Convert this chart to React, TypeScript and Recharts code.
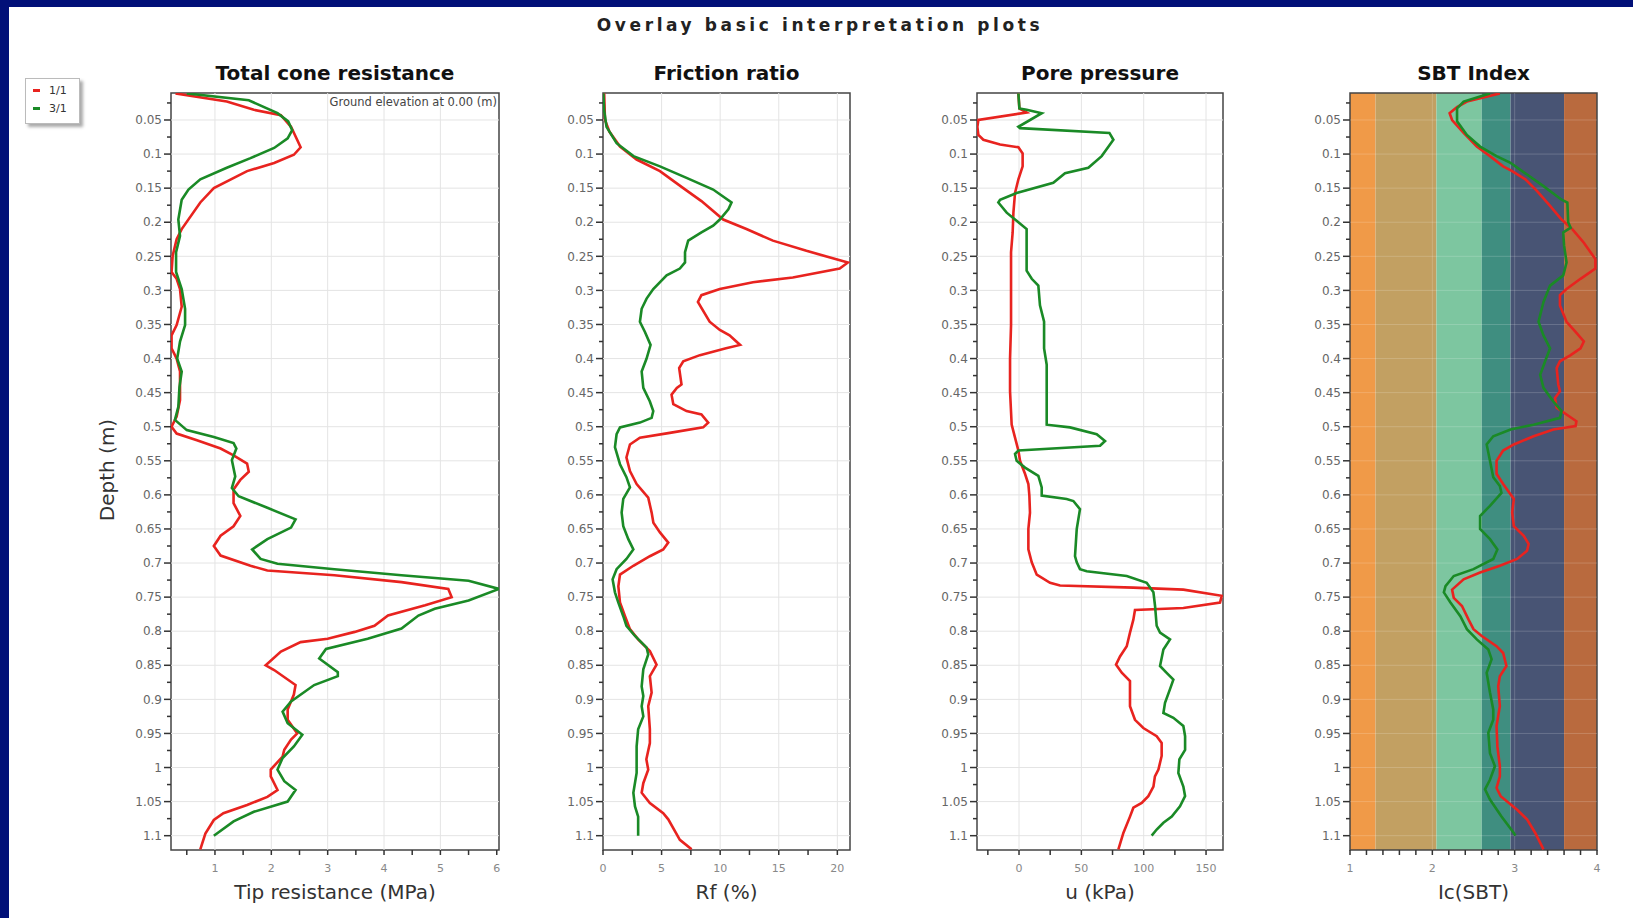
import React, { type ReactElement } from "react";
import {
  ReferenceArea,
  ReferenceLine,
  Scatter,
  ScatterChart,
  XAxis,
  YAxis,
} from "recharts";

// each curve: depth (m) and the value read at that depth
const coneDepth1 = [0.011, 0.023, 0.035, 0.043, 0.06, 0.09, 0.101, 0.113, 0.125, 0.15, 0.171, 0.21, 0.225, 0.249, 0.273, 0.283, 0.298, 0.324, 0.351, 0.366, 0.385, 0.4, 0.419, 0.432, 0.461, 0.485, 0.5, 0.51, 0.52, 0.532, 0.542, 0.554, 0.566, 0.578, 0.592, 0.612, 0.631, 0.646, 0.66, 0.675, 0.689, 0.704, 0.711, 0.718, 0.728, 0.738, 0.75, 0.762, 0.777, 0.792, 0.801, 0.811, 0.816, 0.83, 0.85, 0.857, 0.879, 0.893, 0.915, 0.93, 0.95, 0.959, 0.974, 0.984, 1.003, 1.013, 1.033, 1.043, 1.055, 1.067, 1.077, 1.097, 1.12];
const coneQt1 = [0.3, 1.21, 1.69, 2.17, 2.35, 2.52, 2.4, 2.05, 1.57, 0.98, 0.74, 0.41, 0.32, 0.25, 0.23, 0.32, 0.38, 0.41, 0.32, 0.23, 0.23, 0.32, 0.38, 0.38, 0.38, 0.32, 0.23, 0.32, 0.68, 1.1, 1.33, 1.57, 1.6, 1.45, 1.33, 1.33, 1.45, 1.33, 1.1, 0.98, 1.1, 1.63, 1.93, 3.12, 4.31, 5.14, 5.2, 4.73, 4.07, 3.83, 3.48, 3.0, 2.52, 2.17, 1.9, 2.05, 2.43, 2.4, 2.29, 2.29, 2.46, 2.35, 2.23, 2.2, 1.99, 1.99, 2.11, 1.93, 1.57, 1.15, 0.98, 0.83, 0.74];
const coneDepth3 = [0.011, 0.021, 0.04, 0.052, 0.065, 0.077, 0.091, 0.106, 0.12, 0.137, 0.152, 0.167, 0.196, 0.22, 0.244, 0.273, 0.298, 0.327, 0.351, 0.375, 0.4, 0.419, 0.442, 0.471, 0.49, 0.505, 0.515, 0.524, 0.532, 0.549, 0.573, 0.59, 0.602, 0.619, 0.636, 0.648, 0.665, 0.68, 0.694, 0.701, 0.709, 0.718, 0.726, 0.738, 0.755, 0.767, 0.777, 0.796, 0.811, 0.826, 0.84, 0.86, 0.866, 0.879, 0.903, 0.918, 0.935, 0.952, 0.969, 0.986, 1.003, 1.02, 1.033, 1.05, 1.065, 1.079, 1.1];
const coneQt3 = [0.5, 1.6, 2.11, 2.3, 2.37, 2.29, 2.05, 1.63, 1.21, 0.74, 0.53, 0.41, 0.35, 0.38, 0.31, 0.31, 0.41, 0.47, 0.47, 0.38, 0.33, 0.41, 0.37, 0.35, 0.29, 0.5, 0.98, 1.33, 1.38, 1.3, 1.36, 1.3, 1.42, 1.93, 2.43, 2.35, 1.93, 1.66, 1.81, 2.11, 3.12, 4.31, 5.5, 6.04, 5.5, 4.9, 4.61, 4.31, 3.71, 2.97, 2.85, 3.18, 3.18, 2.76, 2.35, 2.2, 2.29, 2.55, 2.4, 2.2, 2.11, 2.23, 2.43, 2.29, 1.69, 1.33, 0.98];

const rfDepth1 = [0.011, 0.05, 0.067, 0.089, 0.108, 0.125, 0.15, 0.169, 0.196, 0.21, 0.227, 0.242, 0.259, 0.268, 0.281, 0.288, 0.298, 0.307, 0.317, 0.346, 0.358, 0.366, 0.38, 0.385, 0.395, 0.404, 0.414, 0.438, 0.443, 0.453, 0.467, 0.477, 0.482, 0.494, 0.501, 0.509, 0.516, 0.526, 0.545, 0.565, 0.584, 0.604, 0.626, 0.641, 0.655, 0.67, 0.68, 0.69, 0.704, 0.717, 0.734, 0.758, 0.778, 0.797, 0.812, 0.829, 0.849, 0.866, 0.89, 0.91, 0.944, 0.964, 0.988, 1.003, 1.023, 1.037, 1.052, 1.067, 1.076, 1.106, 1.12];
const rf1 = [0.1, 0.17, 0.54, 1.45, 2.87, 4.86, 6.85, 8.4, 10.26, 12.24, 14.5, 17.36, 20.9, 20.2, 16.2, 12.8, 9.97, 8.4, 8.1, 9.1, 9.97, 10.8, 11.7, 10.5, 8.27, 6.85, 6.5, 6.7, 6.3, 5.85, 6.0, 7.13, 8.4, 8.98, 8.55, 5.7, 3.15, 2.3, 2.0, 2.3, 2.87, 3.86, 4.15, 4.3, 4.86, 5.57, 5.14, 4.0, 2.59, 1.45, 1.31, 1.45, 1.88, 2.3, 3.0, 4.0, 4.57, 4.0, 4.15, 3.86, 4.0, 4.0, 3.7, 3.86, 3.44, 3.3, 4.0, 5.14, 5.57, 6.56, 7.56];
const rfDepth3 = [0.011, 0.035, 0.06, 0.084, 0.103, 0.118, 0.135, 0.152, 0.171, 0.181, 0.196, 0.205, 0.215, 0.227, 0.244, 0.259, 0.268, 0.278, 0.298, 0.312, 0.327, 0.346, 0.361, 0.38, 0.4, 0.419, 0.443, 0.463, 0.477, 0.487, 0.494, 0.501, 0.511, 0.53, 0.555, 0.574, 0.589, 0.606, 0.626, 0.646, 0.665, 0.68, 0.694, 0.709, 0.724, 0.743, 0.758, 0.778, 0.792, 0.807, 0.824, 0.834, 0.856, 0.881, 0.895, 0.91, 0.925, 0.944, 0.969, 1.008, 1.037, 1.057, 1.072, 1.1];
const rf3 = [0.03, 0.09, 0.3, 1.16, 2.6, 4.86, 7.13, 9.4, 10.97, 10.7, 9.97, 9.4, 8.4, 7.27, 7.0, 7.0, 6.56, 5.43, 4.29, 3.72, 3.3, 3.15, 3.58, 4.06, 3.72, 3.3, 3.44, 4.0, 4.29, 4.15, 3.15, 1.45, 1.16, 1.02, 1.45, 2.0, 2.3, 1.73, 1.59, 1.73, 2.16, 2.59, 2.0, 1.16, 0.82, 1.02, 1.31, 1.73, 2.0, 2.73, 3.72, 3.86, 3.44, 3.3, 3.44, 3.3, 3.44, 3.0, 2.87, 2.87, 2.59, 2.73, 3.0, 3.0];

const uDepth1 = [0.011, 0.033, 0.039, 0.05, 0.06, 0.072, 0.079, 0.086, 0.09, 0.099, 0.118, 0.137, 0.157, 0.186, 0.215, 0.244, 0.302, 0.351, 0.4, 0.448, 0.497, 0.516, 0.535, 0.55, 0.569, 0.584, 0.601, 0.626, 0.65, 0.68, 0.699, 0.717, 0.729, 0.733, 0.736, 0.739, 0.748, 0.758, 0.766, 0.769, 0.783, 0.802, 0.822, 0.837, 0.849, 0.861, 0.873, 0.895, 0.91, 0.93, 0.942, 0.954, 0.964, 0.983, 1.003, 1.013, 1.028, 1.042, 1.052, 1.059, 1.072, 1.096, 1.12];
const u1 = [-0.5, 0.3, 6.1, -32.6, -33.4, -32.6, -28.6, -15.2, -0.5, 2.9, 2.9, -0.5, -3.2, -4.5, -5.1, -6.4, -6.4, -6.4, -7.2, -7.2, -5.9, -3.2, -0.5, 0.8, 4.8, 7.5, 8.3, 8.8, 7.5, 7.5, 10.2, 14.2, 24.9, 32.9, 91.7, 131.8, 162.6, 161.2, 131.8, 93.0, 91.7, 89.0, 86.4, 81.0, 77.8, 82.4, 89.0, 89.0, 89.0, 93.0, 99.7, 110.4, 114.4, 114.4, 111.8, 109.0, 107.8, 103.7, 98.4, 91.7, 89.0, 83.7, 79.7];
const uDepth3 = [0.011, 0.033, 0.035, 0.04, 0.06, 0.062, 0.069, 0.079, 0.103, 0.12, 0.128, 0.142, 0.157, 0.167, 0.171, 0.186, 0.2, 0.21, 0.271, 0.283, 0.293, 0.322, 0.346, 0.385, 0.409, 0.497, 0.501, 0.511, 0.521, 0.528, 0.535, 0.54, 0.55, 0.56, 0.572, 0.589, 0.601, 0.606, 0.609, 0.621, 0.65, 0.69, 0.699, 0.709, 0.712, 0.719, 0.729, 0.743, 0.763, 0.792, 0.802, 0.812, 0.827, 0.851, 0.861, 0.871, 0.885, 0.905, 0.92, 0.927, 0.939, 0.954, 0.974, 0.988, 1.008, 1.028, 1.042, 1.057, 1.072, 1.081, 1.091, 1.1];
const u3 = [-0.5, 0.3, 6.1, 18.2, -0.5, 0.8, 72.5, 75.7, 66.3, 55.6, 36.9, 27.5, -1.9, -15.2, -16.6, -9.9, -0.5, 6.1, 6.1, 10.2, 15.5, 16.8, 20.1, 20.1, 22.2, 22.2, 40.9, 62.3, 69.0, 65.0, -0.5, -3.2, -1.9, 4.8, 15.5, 18.2, 18.2, 38.2, 43.6, 48.9, 46.3, 44.9, 46.3, 48.9, 54.3, 86.4, 102.4, 107.8, 109.1, 110.4, 113.1, 121.1, 115.8, 113.1, 118.4, 123.8, 121.1, 117.1, 115.8, 123.8, 131.8, 133.2, 133.2, 128.6, 127.8, 131.8, 133.2, 129.1, 122.5, 115.8, 110.4, 106.4];

const icDepth1 = [0.011, 0.023, 0.031, 0.04, 0.05, 0.069, 0.089, 0.103, 0.118, 0.125, 0.137, 0.154, 0.176, 0.196, 0.21, 0.23, 0.254, 0.268, 0.283, 0.298, 0.307, 0.322, 0.346, 0.361, 0.375, 0.385, 0.395, 0.404, 0.414, 0.438, 0.448, 0.458, 0.472, 0.482, 0.492, 0.499, 0.504, 0.514, 0.526, 0.535, 0.55, 0.569, 0.584, 0.606, 0.626, 0.646, 0.66, 0.672, 0.682, 0.694, 0.704, 0.714, 0.724, 0.739, 0.751, 0.763, 0.783, 0.797, 0.807, 0.822, 0.832, 0.851, 0.866, 0.881, 0.91, 0.939, 0.969, 0.998, 1.013, 1.03, 1.042, 1.062, 1.076, 1.096, 1.12];
const ic1 = [2.82, 2.42, 2.3, 2.21, 2.24, 2.38, 2.54, 2.7, 2.86, 2.97, 3.13, 3.27, 3.43, 3.57, 3.7, 3.84, 3.98, 3.98, 3.8, 3.63, 3.55, 3.55, 3.63, 3.74, 3.84, 3.8, 3.68, 3.55, 3.51, 3.53, 3.55, 3.49, 3.51, 3.63, 3.75, 3.74, 3.47, 3.23, 2.99, 2.86, 2.78, 2.78, 2.86, 2.99, 2.97, 2.99, 3.11, 3.17, 3.15, 3.03, 2.82, 2.58, 2.38, 2.24, 2.26, 2.36, 2.44, 2.5, 2.6, 2.78, 2.86, 2.9, 2.82, 2.8, 2.82, 2.78, 2.79, 2.82, 2.82, 2.78, 2.83, 3.03, 3.15, 3.25, 3.35];
const icDepth3 = [0.011, 0.023, 0.033, 0.052, 0.072, 0.089, 0.103, 0.113, 0.13, 0.147, 0.167, 0.171, 0.2, 0.208, 0.215, 0.234, 0.259, 0.278, 0.293, 0.317, 0.346, 0.366, 0.385, 0.404, 0.424, 0.443, 0.463, 0.477, 0.487, 0.497, 0.504, 0.514, 0.526, 0.55, 0.574, 0.587, 0.597, 0.616, 0.631, 0.65, 0.665, 0.68, 0.694, 0.709, 0.719, 0.734, 0.743, 0.758, 0.778, 0.797, 0.812, 0.827, 0.841, 0.861, 0.89, 0.915, 0.93, 0.949, 0.979, 0.998, 1.018, 1.032, 1.047, 1.072, 1.096, 1.1];
const ic3 = [2.7, 2.38, 2.3, 2.3, 2.42, 2.58, 2.78, 2.95, 3.15, 3.35, 3.57, 3.64, 3.65, 3.68, 3.59, 3.6, 3.63, 3.59, 3.43, 3.35, 3.29, 3.35, 3.43, 3.37, 3.31, 3.35, 3.47, 3.57, 3.55, 3.23, 2.95, 2.74, 2.66, 2.7, 2.74, 2.82, 2.84, 2.7, 2.58, 2.58, 2.7, 2.79, 2.74, 2.5, 2.26, 2.16, 2.14, 2.22, 2.34, 2.42, 2.54, 2.68, 2.72, 2.66, 2.7, 2.74, 2.74, 2.68, 2.7, 2.76, 2.7, 2.64, 2.7, 2.84, 2.99, 3.01];

const seriesNames = ["1/1", "3/1"];
const seriesColors = ["#e8231f", "#1a8a26"];

// axis ticks
const depthTicks = [0.05, 0.1, 0.15, 0.2, 0.25, 0.3, 0.35, 0.4, 0.45, 0.5, 0.55, 0.6, 0.65, 0.7, 0.75, 0.8, 0.85, 0.9, 0.95, 1, 1.05, 1.1];
const coneTicks = [1, 2, 3, 4, 5, 6];
const coneMinor = [0.5, 1.5, 2.5, 3.5, 4.5, 5.5];
const rfTicks = [0, 5, 10, 15, 20];
const rfMinor = [2.5, 7.5, 12.5, 17.5];
const uTicks = [0, 50, 100, 150];
const uMinor = [-25, 25, 75, 125];
const icTicks = [1, 2, 3, 4];
const icMinor = [1.2, 1.4, 1.6, 1.8, 2.2, 2.4, 2.6, 2.8, 3.2, 3.4, 3.6, 3.8];

// Robertson SBT zones
const sbtBounds = [1, 1.31, 2.05, 2.6, 2.95, 3.6, 4];
const sbtColors = ["#f09a48", "#c2a062", "#7dc6a0", "#3f8e80", "#485474", "#b96a3e"];

const DEPTH_DOMAIN: [number, number] = [0.0104, 1.121];
const PLOT_TOP = 93;
const PLOT_BOTTOM = 850;
const Y_W = 44;
const X_H = 40;
const PAD = 4;
const FONT = "'DejaVu Sans', Verdana, sans-serif";

type Pt = { d: number; v: number };
const zip = (depth: number[], vals: number[]): Pt[] =>
  depth.map((d, i) => ({ d, v: vals[i] }));

const depthMinor = depthTicks.map((t) => +(t - 0.025).toFixed(3));
const allDepthTicks = [...depthMinor, ...depthTicks].sort((a, b) => a - b);

const DepthTick = (props: any) => {
  const { x, y, payload } = props;
  const v = payload.value as number;
  const major = depthTicks.some((t) => Math.abs(t - v) < 1e-6);
  return (
    <g>
      <line x1={x - (major ? 7 : 4)} x2={x} y1={y} y2={y} stroke="#333" strokeWidth={1.5} />
      {major && (
        <text x={x - 9} y={y} dy="0.35em" textAnchor="end" fontSize={12} fill="#666" fontFamily={FONT}>
          {String(v)}
        </text>
      )}
    </g>
  );
};

const makeXTick = (majors: number[]) => (props: any) => {
  const { x, y, payload } = props;
  const v = payload.value as number;
  const major = majors.includes(v);
  return (
    <g>
      <line x1={x} x2={x} y1={y} y2={y + 5} stroke="#333" strokeWidth={1.5} />
      {major && (
        <text x={x} y={y + 18} dy="0.35em" textAnchor="middle" fontSize={11} fill="#888" fontFamily={FONT}>
          {String(v)}
        </text>
      )}
    </g>
  );
};

const NoDot = () => <g />;

type PanelProps = {
  title: string;
  xLabel: string;
  left: number;
  right: number;
  domain: [number, number];
  majors: number[];
  minors: number[];
  grid: number[];
  curves: Pt[][];
  bands?: boolean;
  gridColor?: string;
};

const Panel = ({
  title,
  xLabel,
  left,
  right,
  domain,
  majors,
  minors,
  grid,
  curves,
  bands,
  gridColor = "#e4e4e4",
}: PanelProps): ReactElement => {
  const plotW = right - left;
  const plotH = PLOT_BOTTOM - PLOT_TOP;
  const ticks = [...majors, ...minors].sort((a, b) => a - b);
  const center = left + plotW / 2;
  return (
    <>
      <div
        style={{
          position: "absolute",
          left: center - 150,
          width: 300,
          top: 61,
          textAlign: "center",
          fontFamily: FONT,
          fontWeight: "bold",
          fontSize: 20,
          color: "#111",
        }}
      >
        {title}
      </div>
      <div style={{ position: "absolute", left: left - Y_W, top: PLOT_TOP - PAD }}>
        <ScatterChart
          width={plotW + Y_W + PAD}
          height={plotH + PAD + X_H}
          margin={{ top: PAD, right: PAD, bottom: 0, left: 0 }}
        >
          <XAxis
            type="number"
            dataKey="v"
            domain={domain}
            allowDataOverflow
            ticks={ticks}
            interval={0}
            tickLine={false}
            axisLine={false}
            tickSize={0}
            tickMargin={0}
            height={X_H}
            tick={makeXTick(majors)}
          />
          <YAxis
            type="number"
            dataKey="d"
            reversed
            domain={DEPTH_DOMAIN}
            allowDataOverflow
            ticks={allDepthTicks}
            interval={0}
            tickLine={false}
            axisLine={false}
            tickSize={0}
            tickMargin={0}
            width={Y_W}
            tick={DepthTick}
          />
          {bands &&
            sbtColors.map((c, i) => (
              <ReferenceArea
                key={`band-${i}`}
                x1={sbtBounds[i]}
                x2={sbtBounds[i + 1]}
                y1={DEPTH_DOMAIN[0]}
                y2={DEPTH_DOMAIN[1]}
                fill={c}
                fillOpacity={1}
                stroke="none"
              />
            ))}
          {grid.map((g) => (
            <ReferenceLine key={`gx-${g}`} x={g} stroke={gridColor} strokeWidth={1} />
          ))}
          {depthTicks.map((t) => (
            <ReferenceLine key={`gy-${t}`} y={t} stroke={gridColor} strokeWidth={1} />
          ))}
          <ReferenceArea
            x1={domain[0]}
            x2={domain[1]}
            y1={DEPTH_DOMAIN[0]}
            y2={DEPTH_DOMAIN[1]}
            fill="none"
            stroke="#444"
            strokeWidth={1.5}
          />
          {curves.map((pts, i) => (
            <Scatter
              key={seriesNames[i]}
              name={seriesNames[i]}
              data={pts}
              fill={seriesColors[i]}
              line={{ stroke: seriesColors[i], strokeWidth: 2.6 }}
              lineType="joint"
              shape={NoDot}
              isAnimationActive={false}
            />
          ))}
        </ScatterChart>
      </div>
      <div
        style={{
          position: "absolute",
          left: center - 150,
          width: 300,
          top: 880,
          textAlign: "center",
          fontFamily: FONT,
          fontSize: 20,
          color: "#333",
        }}
      >
        {xLabel}
      </div>
    </>
  );
};

export default function App(): ReactElement {
  return (
    <div
      style={{
        position: "absolute",
        left: 0,
        top: 0,
        width: 1633,
        height: 918,
        background: "#ffffff",
        overflow: "hidden",
        fontFamily: FONT,
      }}
    >
      <div style={{ position: "absolute", left: 0, top: 0, width: 1633, height: 7, background: "#011078" }} />
      <div style={{ position: "absolute", left: 0, top: 0, width: 9, height: 918, background: "#011078" }} />
      <div
        style={{
          position: "absolute",
          left: 420,
          width: 800,
          top: 15,
          textAlign: "center",
          fontFamily: FONT,
          fontWeight: "bold",
          fontSize: 17,
          letterSpacing: 3.6,
          color: "#222",
        }}
      >
        Overlay basic interpretation plots
      </div>

      <div
        style={{
          position: "absolute",
          left: 25,
          top: 78,
          width: 53,
          height: 44,
          background: "#fff",
          border: "1px solid #bbb",
          boxShadow: "3px 3px 3px #aaa",
          fontSize: 11,
          fontFamily: FONT,
          color: "#333",
        }}
      >
        {seriesNames.map((n, i) => (
          <div key={n} style={{ position: "absolute", left: 7, top: 4 + i * 18, height: 14, display: "flex", alignItems: "center" }}>
            <span style={{ display: "inline-block", width: 7, height: 3, background: seriesColors[i], marginRight: 9 }} />
            <span>{n}</span>
          </div>
        ))}
      </div>

      <div
        style={{
          position: "absolute",
          left: 107,
          top: 470,
          width: 0,
          height: 0,
        }}
      >
        <div
          style={{
            position: "absolute",
            left: -60,
            top: -12,
            width: 120,
            textAlign: "center",
            transform: "rotate(-90deg)",
            fontSize: 20,
            color: "#333",
          }}
        >
          Depth (m)
        </div>
      </div>

      <Panel
        title="Total cone resistance"
        xLabel="Tip resistance (MPa)"
        left={171}
        right={499}
        domain={[0.22, 6.04]}
        majors={coneTicks}
        minors={coneMinor}
        grid={[1, 2, 3, 4, 5]}
        curves={[zip(coneDepth1, coneQt1), zip(coneDepth3, coneQt3)]}
      />
      <div
        style={{
          position: "absolute",
          left: 297,
          width: 200,
          top: 95,
          textAlign: "right",
          fontSize: 11.5,
          color: "#444",
        }}
      >
        Ground elevation at 0.00 (m)
      </div>
      <Panel
        title="Friction ratio"
        xLabel="Rf (%)"
        left={603}
        right={850}
        domain={[0, 21.08]}
        majors={rfTicks}
        minors={rfMinor}
        grid={[5, 10, 15, 20]}
        curves={[zip(rfDepth1, rf1), zip(rfDepth3, rf3)]}
      />
      <Panel
        title="Pore pressure"
        xLabel="u (kPa)"
        left={977}
        right={1223}
        domain={[-33.7, 163.6]}
        majors={uTicks}
        minors={uMinor}
        grid={[0, 50, 100, 150]}
        curves={[zip(uDepth1, u1), zip(uDepth3, u3)]}
      />
      <Panel
        title="SBT Index"
        xLabel="Ic(SBT)"
        left={1350}
        right={1597}
        domain={[1, 4]}
        majors={icTicks}
        minors={icMinor}
        grid={[2, 3]}
        curves={[zip(icDepth1, ic1), zip(icDepth3, ic3)]}
        bands
        gridColor="rgba(255,255,255,0.18)"
      />
    </div>
  );
}
